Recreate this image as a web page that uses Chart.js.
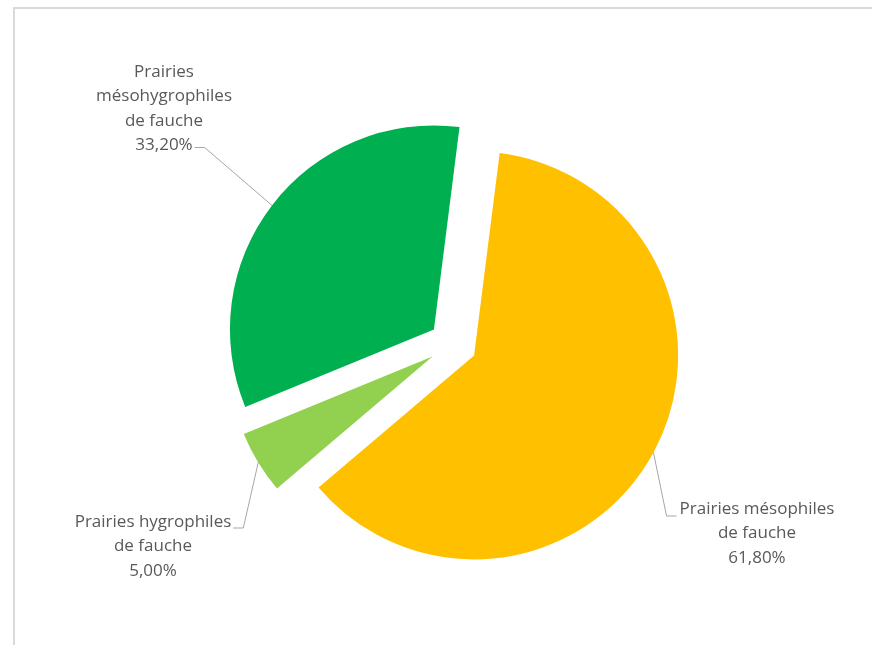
<!DOCTYPE html>
<html>
<head>
<meta charset="utf-8">
<script src="https://cdn.jsdelivr.net/npm/chart.js@4.4.0/dist/chart.umd.min.js"></script>
<style>
  html, body { margin: 0; padding: 0; background: #ffffff; }
  #wrap { position: relative; width: 872px; height: 645px; overflow: hidden; }
  #frame { position: absolute; left: 13px; top: 7px; width: 900px; height: 700px;
           border-left: 2px solid #d9d9d9; border-top: 2px solid #d9d9d9; box-sizing: border-box; }
  canvas { position: absolute; left: 0; top: 0; }
</style>
</head>
<body>
<div id="wrap">
  <div id="frame"></div>
  <canvas id="c" width="872" height="645"></canvas>
</div>
<script>
// ---- data ----
const categories = [
  ["Prairies mésophiles", "de fauche"],
  ["Prairies hygrophiles", "de fauche"],
  ["Prairies", "mésohygrophiles", "de fauche"]
];
const values = [61.8, 5.0, 33.2];
const percentLabels = ["61,80%", "5,00%", "33,20%"];
const colors = ["#FFC000", "#92D050", "#00B050"];

// ---- style / layout ----
const EXPLODE = 24;          // px each slice is pulled out from the centre
const labelLayout = [
  { x: 757, y: 509, side: "left",  line: 0, dy: 7 },
  { x: 153, y: 522, side: "right", line: 0, dy: 6 },
  { x: 164, y: 72,  side: "right", line: 3, dy: 2 }
];

const explodePlugin = {
  id: "explode",
  beforeDatasetsDraw(chart) {
    const ctx = chart.ctx;
    const meta = chart.getDatasetMeta(0);
    meta.data.forEach(arc => {
      const p = arc.getProps(["startAngle", "endAngle"], true);
      const mid = (p.startAngle + p.endAngle) / 2;
      ctx.save();
      ctx.translate(Math.cos(mid) * EXPLODE, Math.sin(mid) * EXPLODE);
      arc.draw(ctx);
      ctx.restore();
    });
    return false;
  }
};

const labelPlugin = {
  id: "calloutLabels",
  afterDraw(chart) {
    const ctx = chart.ctx;
    const meta = chart.getDatasetMeta(0);
    ctx.save();
    ctx.font = "17px 'Open Sans'";
    ctx.fillStyle = "#595959";
    ctx.textAlign = "center";
    ctx.textBaseline = "middle";
    const lh = 24.5;
    meta.data.forEach((arc, i) => {
      const p = arc.getProps(["x", "y", "startAngle", "endAngle", "outerRadius"], true);
      const mid = (p.startAngle + p.endAngle) / 2;
      const r = p.outerRadius + EXPLODE;
      const ax = p.x + Math.cos(mid) * r;
      const ay = p.y + Math.sin(mid) * r;
      const L = labelLayout[i];
      const lines = categories[i].concat([percentLabels[i]]);
      lines.forEach((t, k) => ctx.fillText(t, L.x, L.y + k * lh));
      const w = ctx.measureText(lines[L.line]).width;
      const ty = L.y + L.line * lh + L.dy;
      let tx, ex;
      if (L.side === "left") { tx = L.x - w / 2 - 3; ex = tx - 10; }
      else { tx = L.x + w / 2 + 2; ex = tx + 10; }
      ctx.beginPath();
      ctx.strokeStyle = "#a6a6a6";
      ctx.lineWidth = 1;
      ctx.moveTo(tx, ty);
      ctx.lineTo(ex, ty);
      ctx.lineTo(ax, ay);
      ctx.stroke();
    });
    ctx.restore();
  }
};

new Chart(document.getElementById("c"), {
  type: "pie",
  data: {
    labels: categories.map(c => c.join(" ")),
    datasets: [{
      data: values,
      backgroundColor: colors,
      borderWidth: 0,
      radius: 204
    }]
  },
  options: {
    responsive: false,
    animation: false,
    rotation: 7.2,
    layout: { padding: { left: 60, right: 26, top: 60, bottom: 17 } },
    plugins: { legend: { display: false }, tooltip: { enabled: false } }
  },
  plugins: [explodePlugin, labelPlugin]
});
</script>
</body>
</html>
